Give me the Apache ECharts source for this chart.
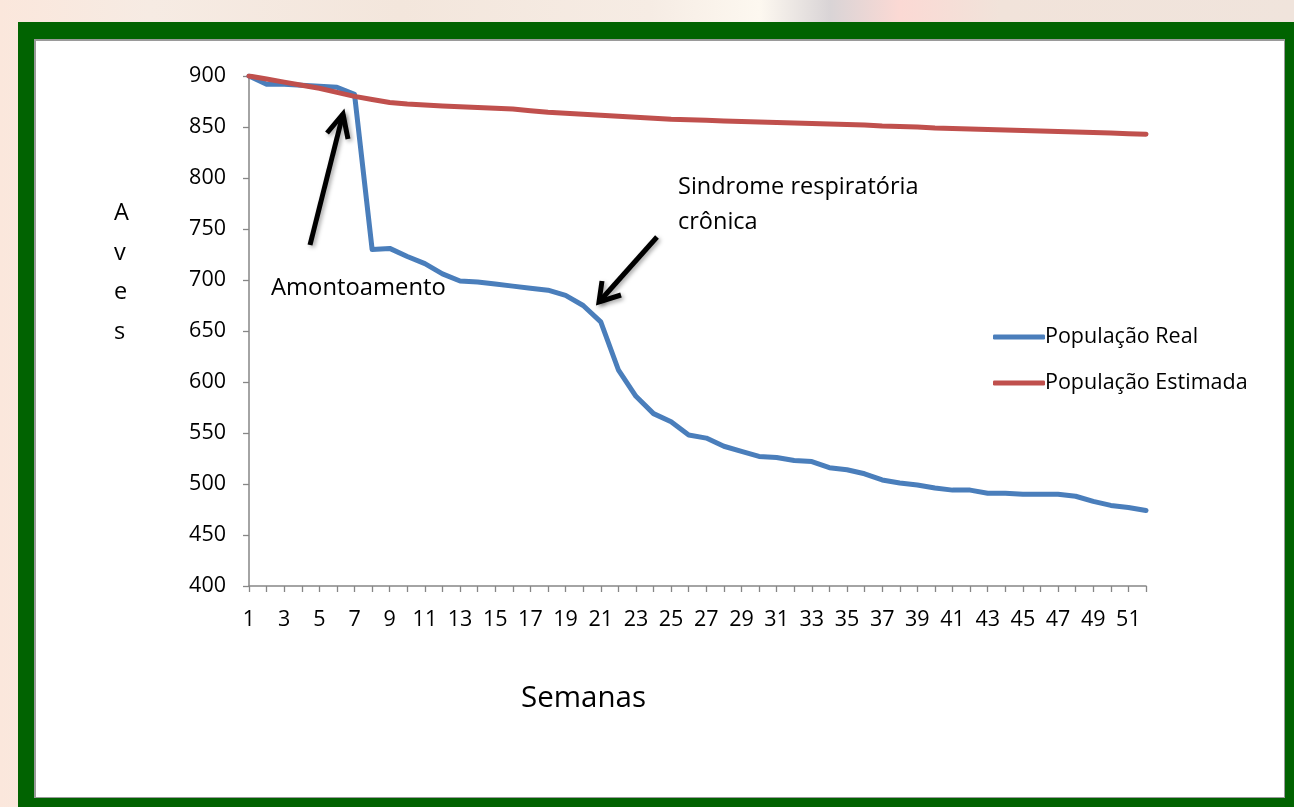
<!DOCTYPE html>
<html>
<head>
<meta charset="utf-8">
<script src="https://cdn.jsdelivr.net/npm/echarts@6/dist/echarts.min.js"></script>
<style>
  html, body { margin: 0; padding: 0; width: 1294px; height: 807px; overflow: hidden; }
  body {
    background: linear-gradient(90deg, #fbe7dc 0px, #f6ebe3 150px, #f3e6dc 400px, #f6ece4 650px, #fdf8f0 760px, #d9d4d6 830px, #fbd9d4 900px, #f1e3da 1000px, #f0e4dc 1294px);
    position: relative;
  }
  #frame { position: absolute; left: 18px; top: 22px; width: 1290px; height: 800px; background: #016301; }
  #inner { position: absolute; left: 34px; top: 39px; width: 1248px; height: 756px; background: #fff; border: 1px solid #9a9a9a; border-top-width: 2px; border-left-width: 2px; }
  #chart { position: absolute; left: 0; top: 0; width: 1294px; height: 807px; }
</style>
</head>
<body>
<div id="frame"></div>
<div id="inner"></div>
<div id="chart"></div>
<script>
const weeks = Array.from({length: 52}, (_, i) => String(i + 1));
const populacaoReal = [
  900, 892, 892, 891, 890, 889, 882, 730, 731, 723,
  716, 706, 699, 698, 696, 694, 692, 690, 685, 675,
  659, 612, 586, 569, 561, 548, 545, 537, 532, 527,
  526, 523, 522, 516, 514, 510, 504, 501, 499, 496,
  494, 494, 491, 491, 490, 490, 490, 488, 483, 479,
  477, 474
];
const populacaoEstimada = [
  900, 897, 894, 891, 888, 884, 880, 877, 874, 872.5,
  871.5, 870.5, 869.8, 869, 868.3, 867.6, 866, 864.5, 863.5, 862.5,
  861.5, 860.5, 859.5, 858.5, 857.5, 857, 856.5, 856, 855.5, 855,
  854.5, 854, 853.5, 853, 852.5, 852, 851, 850.5, 850, 849,
  848.5, 848, 847.5, 847, 846.5, 846, 845.5, 845, 844.5, 844,
  843.5, 843
];
const yTicks = { min: 400, max: 900, interval: 50 };
const seriesNames = ['População Real', 'População Estimada'];

const FONT = 'Open Sans';
const chart = echarts.init(document.getElementById('chart'), null, { renderer: 'canvas' });

function arrow(x1, y1, x2, y2, a1, a2) {
  const shadow = { shadowBlur: 4, shadowColor: 'rgba(0,0,0,0.35)', shadowOffsetX: 2, shadowOffsetY: 2 };
  return [
    { type: 'line', shape: { x1: x1, y1: y1, x2: x2, y2: y2 }, style: Object.assign({ stroke: '#000', lineWidth: 5, lineCap: 'butt' }, shadow), z: 100 },
    { type: 'polyline', shape: { points: [a1, [x2, y2], a2] }, style: Object.assign({ stroke: '#000', lineWidth: 5, fill: null, lineJoin: 'miter', lineCap: 'butt' }, shadow), z: 100 }
  ];
}

const option = {
  animation: false,
  backgroundColor: 'transparent',
  textStyle: { fontFamily: FONT },
  grid: { left: 249, top: 76, right: 148, bottom: 221, containLabel: false },
  legend: {
    orient: 'vertical',
    left: 988, top: 321,
    itemWidth: 52, itemHeight: 5, itemGap: 24,
    icon: 'roundRect',
    data: seriesNames,
    textStyle: { fontFamily: FONT, fontSize: 21.5, color: '#000', padding: [0, 0, 0, -5] }
  },
  xAxis: {
    type: 'category',
    data: weeks,
    boundaryGap: false,
    axisLine: { lineStyle: { color: '#868686', width: 1.5 } },
    axisTick: { show: true, interval: 0, length: 6, lineStyle: { color: '#868686', width: 1.3 } },
    axisLabel: { interval: 1, margin: 23, fontSize: 21.5, color: '#000', fontFamily: FONT }
  },
  yAxis: {
    type: 'value',
    min: yTicks.min, max: yTicks.max, interval: yTicks.interval,
    splitLine: { show: false },
    axisLine: { show: true, lineStyle: { color: '#868686', width: 1.5 } },
    axisTick: { show: true, length: 6, lineStyle: { color: '#868686', width: 1.3 } },
    axisLabel: { margin: 23, fontSize: 21.5, color: '#000', fontFamily: FONT }
  },
  series: [
    {
      name: seriesNames[0], type: 'line', data: populacaoReal,
      symbol: 'none', color: '#4a7ebb',
      lineStyle: { width: 5, color: '#4a7ebb', cap: 'round', join: 'round' }, z: 2
    },
    {
      name: seriesNames[1], type: 'line', data: populacaoEstimada,
      symbol: 'none', color: '#c0504d',
      lineStyle: { width: 5, color: '#c0504d', cap: 'round', join: 'round' }, z: 3
    }
  ],
  graphic: [
    { type: 'text', left: 271, top: 276, style: { text: 'Amontoamento', font: '23.8px "' + FONT + '"', fill: '#000' } },
    { type: 'text', left: 678, top: 170, style: { text: 'Sindrome respiratória\ncrônica', font: '23.5px "' + FONT + '"', lineHeight: 35, fill: '#000' } },
    { type: 'text', left: 114, top: 194, style: { text: 'A\nv\ne\ns', font: '23.5px "' + FONT + '"', lineHeight: 39.5, align: 'center', fill: '#000' } },
    { type: 'text', left: 521, top: 684, style: { text: 'Semanas', font: '29.5px "' + FONT + '"', fill: '#000' } }
  ].concat(
    arrow(310, 245, 343, 114, [327, 133], [348, 139]),
    arrow(657, 237, 599, 302, [602, 281], [621, 295])
  )
};
chart.setOption(option);
</script>
</body>
</html>
